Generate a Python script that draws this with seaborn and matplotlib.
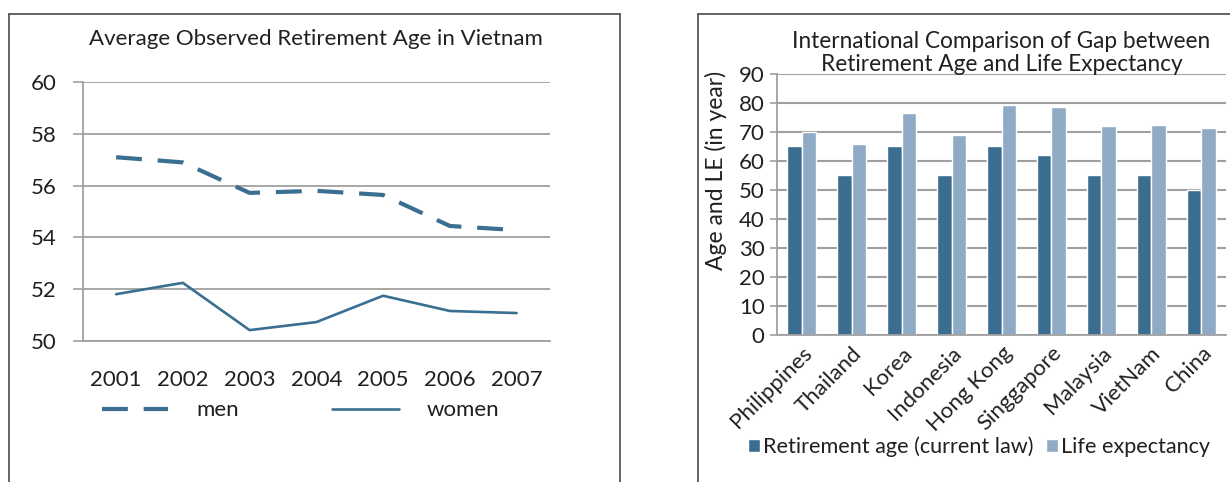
import pandas as pd
import matplotlib
matplotlib.use('Agg')
import matplotlib.pyplot as plt
import seaborn as sns
from matplotlib.lines import Line2D

# data
years = ['2001', '2002', '2003', '2004', '2005', '2006', '2007']
men = [57.1, 56.9, 55.72, 55.8, 55.64, 54.44, 54.28]
women = [51.8, 52.24, 50.41, 50.72, 51.74, 51.15, 51.07]

countries = ['Philippines', 'Thailand', 'Korea', 'Indonesia', 'Hong Kong',
             'Singgapore', 'Malaysia', 'VietNam', 'China']
retirement_age = [65, 55, 65, 55, 65, 62, 55, 55, 50]
life_expectancy = [70, 65.7, 76.4, 68.8, 79.2, 78.4, 72.1, 72.3, 71.4]

sns.set_style('white')
plt.rcParams['font.family'] = ['Lato', 'DejaVu Sans']
plt.rcParams['text.color'] = '#231f20'

line_col = '#3a6f91'
dark = '#3a6d8f'
light = '#8eaac4'
grid_col = '#a0a0a0'
txt = '#231f20'
fs = 16

fig = plt.figure(figsize=(12.3, 4.82), dpi=100)

# panel frames
W, H = 1230, 482
def fline(x0, y0, x1, y1):
    fig.add_artist(Line2D([x0 / W, x1 / W], [1 - y0 / H, 1 - y1 / H],
                          color='#4a4a4a', lw=1.2, transform=fig.transFigure))
fline(9, 14, 9, 482)
fline(9, 14, 620, 14)
fline(620, 14, 620, 482)
fline(698, 14, 698, 482)
fline(698, 14, 1230, 14)

# ---- left: line chart
ax1 = fig.add_axes([82.7 / W, 1 - 340.7 / H, (550 - 82.7) / W, (340.7 - 82.3) / H])
df_line = pd.DataFrame({'year': years * 2,
                        'age': men + women,
                        'sex': ['men'] * 7 + ['women'] * 7})
sns.lineplot(data=df_line, x='year', y='age', hue='sex', style='sex',
             palette=[line_col, line_col], dashes=[(6.2, 3.8), ''],
             sort=False, ax=ax1, legend=False)
ax1.lines[0].set_linewidth(3.0)
ax1.lines[1].set_linewidth(1.9)
ax1.set_xlim(-0.5, 6.5)
ax1.set_ylim(50, 60)
ax1.set_yticks(range(50, 61, 2))
ax1.set_xticks(range(7))
ax1.set_xticklabels(years)
ax1.set_xticks([i - 0.5 for i in range(8)], minor=True)
ax1.tick_params(axis='x', which='major', length=0, pad=21, labelsize=fs, labelcolor=txt)
ax1.tick_params(axis='x', which='minor', length=6, width=1.2, color=grid_col, direction='out')
ax1.tick_params(axis='y', length=7, width=1.2, color=grid_col, pad=12, labelsize=fs,
                labelcolor=txt, left=True)
ax1.grid(axis='y', color=grid_col, lw=1.3)
ax1.set_axisbelow(True)
for s in ['top', 'right']:
    ax1.spines[s].set_visible(False)
for s in ['left', 'bottom']:
    ax1.spines[s].set_color(grid_col)
    ax1.spines[s].set_linewidth(1.3)
ax1.set_xlabel('')
ax1.set_ylabel('')
ax1.set_title('Average Observed Retirement Age in Vietnam', fontsize=16, color=txt, pad=27)
handles = [Line2D([], [], color=line_col, lw=3.0, dashes=(6.2, 3.8)),
           Line2D([], [], color=line_col, lw=1.9)]
ax1.legend(handles, ['men', 'women'], ncol=2, frameon=False, fontsize=fs,
           loc='center left', bbox_to_anchor=(-0.002, -0.27),
           handlelength=3.0, handletextpad=1.25, columnspacing=4.2)

# ---- right: grouped bar chart
ax2 = fig.add_axes([777 / W, 1 - 334.7 / H, 449 / W, 261 / H])
df_bar = pd.DataFrame({'country': countries * 2,
                       'value': retirement_age + life_expectancy,
                       'kind': ['Retirement age (current law)'] * 9 + ['Life expectancy'] * 9})
sns.barplot(data=df_bar, x='country', y='value', hue='kind',
            palette=[dark, light], width=0.58, gap=0, saturation=1, ax=ax2)
ax2.set_xlim(-0.5, 8.5)
ax2.set_ylim(0, 90)
ax2.set_yticks(range(0, 91, 10))
ax2.set_xticks(range(9))
ax2.set_xticklabels(countries, rotation=45, ha='right', rotation_mode='anchor')
ax2.set_xticks([i - 0.5 for i in range(10)], minor=True)
ax2.tick_params(axis='x', which='major', length=0, pad=6, labelsize=16, labelcolor=txt)
ax2.tick_params(axis='x', which='minor', length=6, width=1.2, color=grid_col, direction='out')
ax2.tick_params(axis='y', length=5, width=1.2, color=grid_col, pad=4, labelsize=fs,
                labelcolor=txt, left=True)
ax2.grid(axis='y', color=grid_col, lw=1.5)
ax2.set_axisbelow(True)
for s in ['top', 'right']:
    ax2.spines[s].set_visible(False)
for s in ['left', 'bottom']:
    ax2.spines[s].set_color(grid_col)
    ax2.spines[s].set_linewidth(1.3)
ax2.set_xlabel('')
ax2.set_ylabel('Age and LE (in year)', fontsize=16.5, color=txt)
ax2.yaxis.set_label_coords(-0.111, 0.63)
ax2.set_title('International Comparison of Gap between\nRetirement Age and Life Expectancy',
              fontsize=16.3, color=txt, pad=2, linespacing=1.13)
ax2.legend(ncol=2, frameon=False, fontsize=15.6, loc='center',
           bbox_to_anchor=(0.45, -0.43), handlelength=0.55, handleheight=0.55,
           handletextpad=0.15, columnspacing=0.6)

fig.savefig('out.png', dpi=100)
